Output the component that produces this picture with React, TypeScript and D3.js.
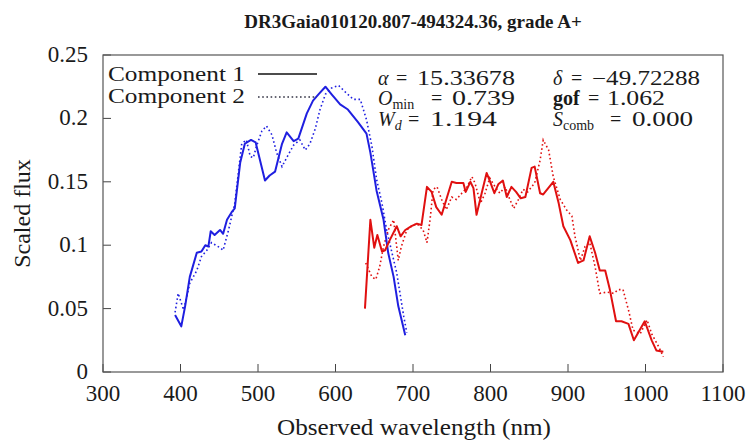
import React from "react";
import * as d3 from "d3";

const width = 747;
const height = 442;
const margin = { top: 55, right: 24, bottom: 70, left: 103 };

const titleText = "DR3Gaia010120.807-494324.36, grade A+";
const xTicks = [300, 400, 500, 600, 700, 800, 900, 1000, 1100];
const yTicks = [0, 0.05, 0.1, 0.15, 0.2, 0.25];
const yTickLabels = ["0", "0.05", "0.1", "0.15", "0.2", "0.25"];
const legendLabels = ["Component 1", "Component 2"];

// [wavelength nm, scaled flux]
const bpComp1: [number, number][] = [
  [393, 0.045], [401, 0.036], [406, 0.052], [412, 0.075], [421, 0.094],
  [427, 0.095], [432, 0.1], [436, 0.099], [439, 0.111], [444, 0.108],
  [451, 0.112], [455, 0.109], [460, 0.12], [466, 0.126], [470, 0.129],
  [477, 0.165], [483, 0.18], [491, 0.183], [497, 0.181], [509, 0.151],
  [515, 0.155], [522, 0.158], [531, 0.18], [537, 0.189], [546, 0.182],
  [552, 0.184], [563, 0.204], [571, 0.214], [578, 0.219], [587, 0.225],
  [595, 0.219], [606, 0.211], [616, 0.207], [629, 0.197], [640, 0.188],
  [645, 0.173], [653, 0.143], [662, 0.12], [668, 0.094], [675, 0.075],
  [681, 0.052], [690, 0.029],
];

const bpComp2: [number, number][] = [
  [393, 0.047], [397, 0.062], [404, 0.049], [408, 0.059], [412, 0.07],
  [421, 0.08], [427, 0.091], [434, 0.096], [440, 0.102], [451, 0.098],
  [455, 0.096], [462, 0.112], [470, 0.133], [475, 0.159], [479, 0.18],
  [485, 0.183], [490, 0.17], [494, 0.169], [498, 0.178], [505, 0.19],
  [511, 0.194], [518, 0.187], [524, 0.173], [531, 0.162], [537, 0.169],
  [546, 0.179], [554, 0.183], [561, 0.175], [567, 0.18], [574, 0.192],
  [580, 0.207], [587, 0.219], [595, 0.224], [604, 0.226], [614, 0.22],
  [623, 0.215], [632, 0.215], [640, 0.199], [647, 0.178], [653, 0.152],
  [660, 0.133], [666, 0.112], [679, 0.078], [688, 0.044], [692, 0.031],
];

const rpComp1: [number, number][] = [
  [638, 0.05], [645, 0.12], [650, 0.098], [654, 0.108], [660, 0.095],
  [664, 0.096], [670, 0.104], [679, 0.115], [684, 0.107], [690, 0.112],
  [698, 0.115], [705, 0.117], [711, 0.116], [718, 0.146], [724, 0.142],
  [730, 0.13], [737, 0.124], [743, 0.136], [750, 0.15], [756, 0.149],
  [765, 0.149], [768, 0.142], [774, 0.15], [778, 0.145], [782, 0.124],
  [789, 0.142], [795, 0.157], [799, 0.151], [805, 0.141], [810, 0.148],
  [816, 0.151], [821, 0.138], [827, 0.146], [833, 0.142], [839, 0.137],
  [845, 0.138], [853, 0.161], [857, 0.162], [864, 0.141], [868, 0.14],
  [881, 0.15], [888, 0.133], [894, 0.115], [903, 0.104], [913, 0.086],
  [920, 0.088], [928, 0.107], [935, 0.094], [941, 0.08], [948, 0.08],
  [954, 0.065], [962, 0.04], [969, 0.04], [978, 0.038], [985, 0.025],
  [999, 0.04], [1008, 0.025], [1014, 0.017], [1023, 0.016],
];

const rpComp2: [number, number][] = [
  [639, 0.086], [647, 0.075], [652, 0.073], [657, 0.083], [662, 0.099],
  [668, 0.112], [675, 0.12], [681, 0.088], [685, 0.099], [692, 0.112],
  [698, 0.115], [705, 0.117], [713, 0.112], [718, 0.102], [722, 0.12],
  [726, 0.144], [731, 0.146], [737, 0.136], [743, 0.128], [750, 0.138],
  [756, 0.136], [763, 0.141], [769, 0.145], [776, 0.154], [780, 0.149],
  [787, 0.133], [793, 0.141], [799, 0.153], [806, 0.146], [812, 0.141],
  [819, 0.146], [825, 0.136], [830, 0.129], [836, 0.136], [842, 0.144],
  [848, 0.142], [857, 0.149], [864, 0.167], [868, 0.183], [875, 0.175],
  [881, 0.154], [890, 0.136], [898, 0.128], [905, 0.123], [909, 0.107],
  [916, 0.088], [922, 0.099], [928, 0.102], [935, 0.083], [941, 0.062],
  [950, 0.063], [959, 0.062], [965, 0.065], [971, 0.065], [978, 0.049],
  [984, 0.033], [993, 0.03], [1002, 0.041], [1008, 0.03], [1017, 0.02],
  [1023, 0.012],
];

const blue = "#1f1fe0";
const red = "#e01010";
const dots = "1.6 2.6";
const font = "Liberation Serif, DejaVu Serif, Liberation Sans, sans-serif";

// a symbol with optional subscript, then "= value"
function Stat(props: {
  x: number;
  y: number;
  sym: string;
  sub?: string;
  subItalic?: boolean;
  bold?: boolean;
  eqX: number;
  valX: number;
  valW: number;
  value: string;
}) {
  const { x, y, sym, sub, subItalic, bold, eqX, valX, valW, value } = props;
  return (
    <g>
      <text x={x} y={y} fontStyle={bold ? "normal" : "italic"} fontWeight={bold ? "bold" : "normal"}>
        {sym}
        {sub && (
          <tspan fontSize={14} dy={4} fontStyle={subItalic ? "italic" : "normal"}>
            {sub}
          </tspan>
        )}
      </text>
      <text x={eqX} y={y}>=</text>
      <text x={valX} y={y} textLength={valW} lengthAdjust="spacingAndGlyphs">
        {value}
      </text>
    </g>
  );
}

export default function App() {
  const x = d3
    .scaleLinear()
    .domain([300, 1100])
    .range([margin.left, width - margin.right]);
  const y = d3
    .scaleLinear()
    .domain([0, 0.25])
    .range([height - margin.bottom, margin.top]);

  const line = d3
    .line<[number, number]>()
    .x((d) => x(d[0]))
    .y((d) => y(d[1]));

  const x0 = x.range()[0];
  const x1 = x.range()[1];
  const y0 = y.range()[0];
  const y1 = y.range()[1];

  return (
    <svg
      width={width}
      height={height}
      style={{ position: "absolute", left: 0, top: 0, background: "#fff", fontFamily: font }}
      fill="#1a1a1a"
    >
      <text x={(x0 + x1) / 2} y={28} textAnchor="middle" fontSize={19} fontWeight="bold">
        {titleText}
      </text>

      {/* ticks, inward on left and bottom */}
      {xTicks.map((t) => (
        <g key={"x" + t}>
          <line x1={x(t)} x2={x(t)} y1={y0} y2={y0 - 8} stroke="#444" strokeWidth={1} />
          <text x={x(t)} y={401} textAnchor="middle" fontSize={23}>
            {t}
          </text>
        </g>
      ))}
      {yTicks.map((t, i) => (
        <g key={"y" + t}>
          <line x1={x0} x2={x0 + 8} y1={y(t)} y2={y(t)} stroke="#444" strokeWidth={1} />
          <text x={x0 - 15} y={y(t) + 7} textAnchor="end" fontSize={23}>
            {yTickLabels[i]}
          </text>
        </g>
      ))}

      <text
        x={(x0 + x1) / 2 - 136}
        y={435}
        fontSize={24}
        textLength={274}
        lengthAdjust="spacingAndGlyphs"
      >
        Observed wavelength (nm)
      </text>
      <text
        transform={`translate(30, ${(y0 + y1) / 2}) rotate(-90)`}
        textAnchor="middle"
        fontSize={24}
      >
        Scaled flux
      </text>

      {/* spectra */}
      <path d={line(bpComp2) || ""} fill="none" stroke={blue} strokeWidth={1.6} strokeDasharray={dots} />
      <path d={line(rpComp2) || ""} fill="none" stroke={red} strokeWidth={1.6} strokeDasharray={dots} />
      <path d={line(bpComp1) || ""} fill="none" stroke={blue} strokeWidth={2} strokeLinejoin="round" />
      <path d={line(rpComp1) || ""} fill="none" stroke={red} strokeWidth={2} strokeLinejoin="round" />

      <rect x={x0} y={y1} width={x1 - x0} height={y0 - y1} fill="none" stroke="#555" strokeWidth={1.2} />

      {/* legend */}
      <text x={108} y={81} fontSize={20} textLength={137} lengthAdjust="spacingAndGlyphs">
        {legendLabels[0]}
      </text>
      <line x1={258} x2={317} y1={74} y2={74} stroke="#111" strokeWidth={1.6} />
      <text x={108} y={103} fontSize={20} textLength={137} lengthAdjust="spacingAndGlyphs">
        {legendLabels[1]}
      </text>
      <line x1={258} x2={317} y1={97} y2={97} stroke="#334" strokeWidth={1.5} strokeDasharray={dots} />

      {/* fit statistics */}
      <g fontSize={20}>
        <Stat x={378} y={85} sym="α" eqX={396} valX={417} valW={98} value="15.33678" />
        <Stat x={378} y={105} sym="O" sub="min" eqX={431} valX={452} valW={63} value="0.739" />
        <Stat x={378} y={126} sym="W" sub="d" subItalic eqX={408} valX={430} valW={67} value="1.194" />
        <Stat x={553} y={85} sym="δ" eqX={571} valX={592} valW={108} value="−49.72288" />
        <Stat x={553} y={105} sym="gof" bold eqX={588} valX={607} valW={58} value="1.062" />
        <Stat x={553} y={126} sym="S" sub="comb" eqX={610} valX={632} valW={61} value="0.000" />
      </g>
    </svg>
  );
}
